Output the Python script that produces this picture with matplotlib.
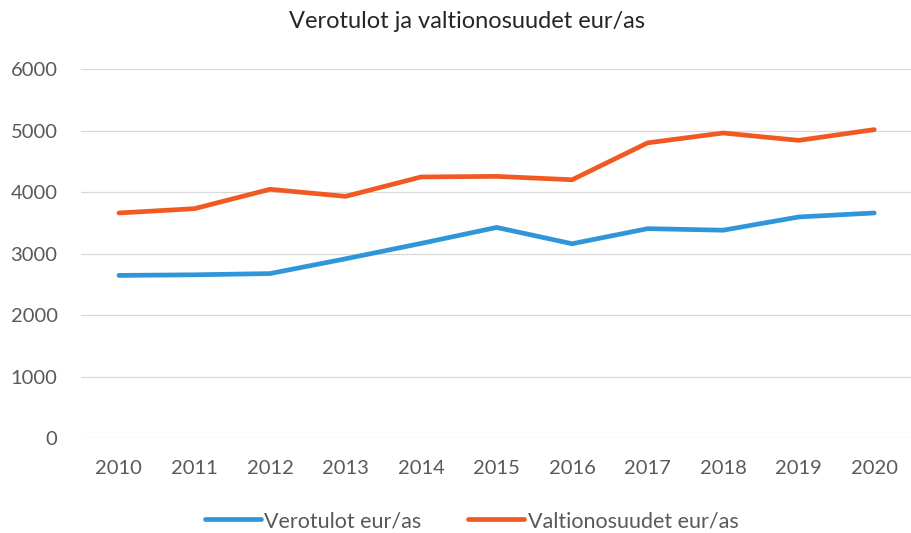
import numpy as np
import matplotlib.pyplot as plt

plt.rcParams['font.family'] = ['Lato', 'DejaVu Sans']

vuodet = ['2010', '2011', '2012', '2013', '2014', '2015', '2016', '2017', '2018', '2019', '2020']
verotulot = [2645, 2655, 2675, 2915, 3165, 3425, 3160, 3405, 3380, 3595, 3660]
valtionosuudet = [3660, 3730, 4045, 3930, 4245, 4255, 4200, 4800, 4960, 4840, 5015]

sininen = '#2F96D9'
oranssi = '#F05A22'
harmaa = '#595959'

fig = plt.figure(figsize=(9.12, 5.33), dpi=100)
ax = fig.add_axes([0.089, 0.178, 0.911, 0.6925])

x = np.arange(len(vuodet))
ax.plot(x, verotulot, color=sininen, lw=3.4, solid_capstyle='round', label='Verotulot eur/as')
ax.plot(x, valtionosuudet, color=oranssi, lw=3.4, solid_capstyle='round', label='Valtionosuudet eur/as')

ax.set_xlim(-0.5, len(vuodet) - 0.5)
ax.set_ylim(0, 6000)
ax.set_yticks(np.arange(0, 6001, 1000))
ax.set_xticks(x)
ax.set_xticklabels(vuodet)
ax.grid(axis='y', color='#D9D9D9', lw=0.9)
ax.set_axisbelow(True)
for s in ax.spines.values():
    s.set_visible(False)
ax.tick_params(axis='both', length=0, labelsize=14.5, labelcolor=harmaa)
ax.tick_params(axis='x', pad=16)
ax.tick_params(axis='y', pad=17)

fig.text(0.512, 0.96, 'Verotulot ja valtionosuudet eur/as', ha='center', va='center',
         fontsize=17, color='#262626')

fig.legend(loc='center', bbox_to_anchor=(0.517, 0.0225), ncol=2, frameon=False,
           fontsize=15.5, labelcolor=harmaa, handlelength=2.6, handletextpad=0.15,
           columnspacing=2.2)

fig.savefig('out.png', dpi=100)
